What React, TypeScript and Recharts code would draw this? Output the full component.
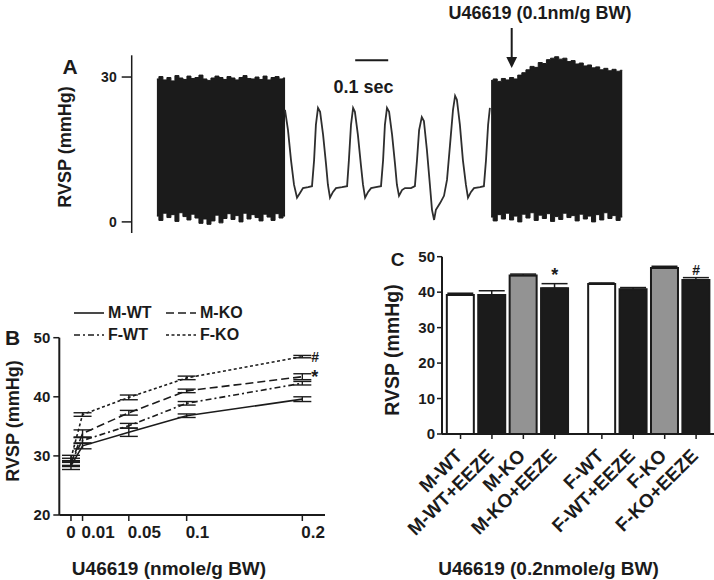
import React from 'react';
import {
  ComposedChart, LineChart, BarChart, Line, Area, Bar, Cell, XAxis, YAxis,
  ErrorBar, ReferenceLine, ReferenceDot, Legend,
} from 'recharts';

const FONT = '"Liberation Sans", Arial, Helvetica, sans-serif';
const INK = '#1b1b1b';

// ---------- panel A: RVSP recording (time in ms) ----------
const baselineStart = 84;
const baselineStep = 13.35;
const baselineTop = [29.6, 30.1, 29.4, 29.9, 29.2, 30.3, 29.8, 29.5, 30.2, 29.7, 29.9, 30.4, 29.6, 29.3, 29.8, 30.2, 29.9,
  29.5, 30.1, 29.8, 29.4, 29.9, 30.3, 29.7, 29.6, 30.0, 29.5, 30.2, 29.4, 29.9, 30.1, 29.6, 29.8];
const baselineBottom = [1.2, 0.3, 1.8, 0.9, 1.5, 0.1, 1.9, 1.1, 0.4, 1.6, 0.8, -0.3, 0.6, -0.5, 0.2, 1.4, -0.2,
  0.7, 1.7, 0.5, 1.3, 0.0, 1.8, 0.6, 1.5, 0.9, 0.2, 1.6, 1.0, 0.3, 1.7, 0.8, 1.2];

const u466Start = 1198;
const u466Step = 13.66;
const u466Top = [29.3, 29.6, 29.1, 29.7, 29.4, 29.9, 29.6, 30.4, 30.9, 31.5, 32.2, 32.0, 33.0, 32.8, 33.6, 33.9, 34.2,
  33.7, 33.9, 33.2, 33.4, 32.7, 32.9, 32.3, 32.5, 31.9, 32.1, 31.5, 31.8, 31.3, 31.6, 31.2, 31.4];
const u466Bottom = [1.0, 0.2, 1.5, 0.6, 1.8, 0.4, 1.2, 0.0, 1.6, 0.8, 1.9, 0.3, 1.4, 0.7, 1.7, 0.1, 1.1,
  0.5, 1.8, 0.9, 1.3, 0.2, 1.6, 0.6, 1.2, 0.0, 1.5, 0.4, 1.9, 0.7, 1.3, 0.3, 1.0];

const beatTime = [511, 521, 531, 541, 551, 561, 571, 588, 601, 608, 614, 621, 628, 638, 648, 654, 661, 671, 681, 701,
  718, 724, 731, 738, 744, 754, 764, 771, 778, 788, 798, 814, 831, 838, 844, 851, 858, 868, 878, 884, 891, 901, 911,
  931, 944, 951, 958, 967, 974, 984, 994, 1001, 1008, 1014, 1028, 1041, 1051, 1061, 1071, 1078, 1084, 1094, 1104,
  1114, 1121, 1131, 1141, 1161, 1174, 1181, 1188, 1194];
const beatPressure = [23.2, 19.0, 12.8, 7.7, 5.0, 6.0, 7.0, 7.2, 7.4, 12.8, 20.1, 23.6, 22.8, 18.0, 11.8, 7.7, 5.0,
  6.2, 7.0, 7.2, 7.4, 12.8, 20.1, 23.6, 22.8, 18.0, 11.8, 7.7, 5.0, 6.2, 7.0, 7.2, 7.4, 12.8, 20.1, 23.6, 22.8, 18.0,
  11.8, 7.7, 5.4, 6.6, 7.0, 7.0, 7.4, 12.8, 19.0, 21.7, 20.9, 14.9, 7.7, 2.5, 0.4, 2.5, 3.9, 5.4, 8.7, 15.9, 23.2,
  26.1, 25.3, 20.1, 12.8, 7.7, 5.0, 6.2, 7.0, 7.2, 7.4, 12.8, 20.1, 23.6];

const scaleBar = [745, 855]; // 0.1 sec

// ---------- panel B: dose response ----------
const doses = [0, 0.01, 0.05, 0.1, 0.2];
const mWT = [28.3, 31.7, 34.0, 36.8, 39.6];
const mWTErr = [0.6, 0.5, 0.7, 0.3, 0.4];
const mKO = [28.7, 33.8, 37.3, 41.0, 43.4];
const mKOErr = [0.5, 0.6, 0.4, 0.3, 0.5];
const fWT = [29.0, 32.6, 35.1, 38.9, 42.3];
const fWTErr = [0.6, 0.5, 0.4, 0.3, 0.3];
const fKO = [29.6, 37.0, 39.9, 43.2, 46.8];
const fKOErr = [0.5, 0.3, 0.4, 0.3, 0.2];

const rowsB = doses.map((dose, i) => ({
  dose,
  mWT: mWT[i], mWTErr: mWTErr[i],
  mKO: mKO[i], mKOErr: mKOErr[i],
  fWT: fWT[i], fWTErr: fWTErr[i],
  fKO: fKO[i], fKOErr: fKOErr[i],
}));

const seriesB = [
  { key: 'mWT', name: 'M-WT', dash: undefined },
  { key: 'mKO', name: 'M-KO', dash: '8 4' },
  { key: 'fWT', name: 'F-WT', dash: '6 3 2 3' },
  { key: 'fKO', name: 'F-KO', dash: '3 2.5' },
];

// ---------- panel C: 0.2 nmole/g BW ----------
const groups = ['M-WT', 'M-WT+EEZE', 'M-KO', 'M-KO+EEZE', 'F-WT', 'F-WT+EEZE', 'F-KO', 'F-KO+EEZE'];
const slots = [1, 2, 3, 4, 5.5, 6.5, 7.5, 8.5];
const rvsp = [39.2, 39.2, 44.7, 41.1, 42.3, 40.8, 46.8, 43.4];
const sem = [0.5, 1.2, 0.4, 1.3, 0.3, 0.5, 0.5, 0.7];
const marks = ['', '', '', '*', '', '', '', '#'];
const barFills = ['#ffffff', INK, '#939393', INK, '#ffffff', INK, '#939393', INK];

const rowsC = groups.map((group, i) => ({ group, slot: slots[i], rvsp: rvsp[i], sem: [0, sem[i]] }));

const tickText = (size: number) => ({ fill: INK, fontSize: size, fontWeight: 700, fontFamily: FONT });
const axisStroke = { stroke: INK, strokeWidth: 2 };

const Caption = ({ x, y, size, vertical, children }: any) => (
  <div
    style={{
      position: 'absolute', left: x, top: y,
      transform: `translate(-50%, -50%)${vertical ? ' rotate(-90deg)' : ''}`,
      fontSize: size, fontWeight: 700, lineHeight: 1, whiteSpace: 'nowrap', color: INK, fontFamily: FONT,
    }}
  >
    {children}
  </div>
);

const DoseTick = (props: any) => {
  const { x, y, payload } = props;
  const v = payload.value;
  return (
    <text x={v === 0 ? x : x - 1} y={y} dy={15} textAnchor={v === 0 ? 'middle' : 'start'} style={tickText(17)}>
      {String(v)}
    </text>
  );
};

const GroupTick = (props: any) => {
  const { x, y, payload } = props;
  const label = groups[slots.indexOf(payload.value)];
  const px = x + 3;
  const py = y + 16;
  return (
    <text x={px} y={py} textAnchor="end" transform={`rotate(-45, ${px}, ${py})`} style={tickText(19)}>
      {label}
    </text>
  );
};

const LegendB = () => (
  <div style={{ display: 'grid', gridTemplateColumns: '92px 92px', fontFamily: FONT, fontWeight: 700, fontSize: 16, color: INK }}>
    {seriesB.map((s) => (
      <div key={s.key} style={{ display: 'flex', alignItems: 'center', height: 22 }}>
        <svg width={30} height={4} style={{ marginRight: 4 }}>
          <line x1={0} y1={2} x2={30} y2={2} stroke={INK} strokeWidth={1.6} strokeDasharray={s.dash} />
        </svg>
        <span>{s.name}</span>
      </div>
    ))}
  </div>
);

const PanelA = () => {
  const baseline = baselineTop.map((hi, i) => ({ t: baselineStart + i * baselineStep, range: [baselineBottom[i], hi] }));
  const u466 = u466Top.map((hi, i) => ({ t: u466Start + i * u466Step, range: [u466Bottom[i], hi] }));
  const beats = beatTime.map((t, i) => ({ t, p: beatPressure[i] }));
  return (
    <ComposedChart width={714} height={240} margin={{ top: 55.3, right: 72.3, bottom: 7, left: 71.7 }}>
      <XAxis type="number" dataKey="t" domain={[0, 1700]} hide />
      <YAxis
        type="number" domain={[-2.3, 34.5]} ticks={[0, 30]} width={60} interval={0}
        axisLine={{ stroke: INK, strokeWidth: 1.5 }} tickLine={{ stroke: INK, strokeWidth: 1.5 }}
        tickSize={10} tickMargin={5} tick={tickText(14)}
      />
      <Area data={baseline} dataKey="range" type="step" stroke={INK} strokeWidth={1} fill={INK} fillOpacity={1}
        dot={false} activeDot={false} isAnimationActive={false} />
      <Area data={u466} dataKey="range" type="step" stroke={INK} strokeWidth={1} fill={INK} fillOpacity={1}
        dot={false} activeDot={false} isAnimationActive={false} />
      <Line data={beats} dataKey="p" type="linear" stroke="#2e2e2e" strokeWidth={1.8} dot={false} activeDot={false}
        isAnimationActive={false} />
      <ReferenceLine segment={[{ x: scaleBar[0], y: 33.5 }, { x: scaleBar[1], y: 33.5 }]} stroke={INK} strokeWidth={2} />
    </ComposedChart>
  );
};

const PanelB = () => (
  <LineChart width={360} height={280} data={rowsB} margin={{ top: 37.7, right: 35, bottom: 35, left: 19.3 }}>
    <XAxis
      type="number" dataKey="dose" domain={[-0.0101, 0.2196]} ticks={doses} interval={0} height={30}
      axisLine={axisStroke} tickLine={{ stroke: INK, strokeWidth: 1.5 }} tickSize={6} tickMargin={2}
      tick={<DoseTick />}
    />
    <YAxis
      type="number" domain={[20, 50]} ticks={[20, 30, 40, 50]} interval={0} width={40}
      axisLine={axisStroke} tickLine={{ stroke: INK, strokeWidth: 1.5 }} tickSize={6} tickMargin={3}
      tick={tickText(15)}
    />
    {seriesB.map((s) => (
      <Line key={s.key} dataKey={s.key} name={s.name} type="linear" stroke={INK} strokeWidth={1.6}
        strokeDasharray={s.dash} dot={false} activeDot={false} isAnimationActive={false}>
        <ErrorBar dataKey={`${s.key}Err`} width={9} stroke={INK} strokeWidth={1.4} direction="y" />
      </Line>
    ))}
    <ReferenceDot x={0.2} y={fKO[4]} r={0} fill="none" stroke="none"
      label={{ value: '#', position: 'right', offset: 9, fill: INK, fontSize: 14, fontWeight: 700, fontFamily: FONT }} />
    <ReferenceDot x={0.2} y={mKO[4]} r={0} fill="none" stroke="none"
      label={{ value: '*', position: 'right', offset: 9, fill: INK, fontSize: 18, fontWeight: 700, fontFamily: FONT }} />
    <Legend layout="horizontal" verticalAlign="middle" align="center" content={<LegendB />}
      wrapperStyle={{ top: 2, left: 74, width: 190 }} />
  </LineChart>
);

const PanelC = () => (
  <BarChart width={354} height={340} data={rowsC} margin={{ top: 16.7, right: 0, bottom: 26, left: 22 }}>
    <XAxis
      type="number" dataKey="slot" domain={[0.41, 9.07]} ticks={slots} interval={0} height={120}
      axisLine={axisStroke} tickLine={{ stroke: INK, strokeWidth: 1.5 }} tickSize={5} tickMargin={2}
      tick={<GroupTick />}
    />
    <YAxis
      type="number" domain={[0, 50]} ticks={[0, 10, 20, 30, 40, 50]} interval={0} width={60}
      axisLine={axisStroke} tickLine={{ stroke: INK, strokeWidth: 1.5 }} tickSize={5} tickMargin={2}
      tick={tickText(15)}
    />
    <Bar dataKey="rvsp" barSize={27} stroke={INK} strokeWidth={2} isAnimationActive={false}>
      {rowsC.map((r, i) => (
        <Cell key={r.group} fill={barFills[i]} />
      ))}
      <ErrorBar dataKey="sem" width={13} stroke={INK} strokeWidth={1.5} direction="y" />
    </Bar>
    {marks.map((m, i) =>
      m ? (
        <ReferenceDot key={groups[i]} x={slots[i]} y={rvsp[i] + sem[i]} r={0} fill="none" stroke="none"
          label={{ value: m, position: 'top', offset: 3, fill: INK, fontSize: m === '*' ? 18 : 14, fontWeight: 700, fontFamily: FONT }} />
      ) : null,
    )}
  </BarChart>
);

export default function App() {
  return (
    <div style={{ position: 'absolute', left: 0, top: 0, width: 714, height: 580, background: '#fff', overflow: 'hidden', fontFamily: FONT }}>
      <div style={{ position: 'absolute', left: 0, top: 0 }}>
        <PanelA />
      </div>
      <div style={{ position: 'absolute', left: 0, top: 300 }}>
        <PanelB />
      </div>
      <div style={{ position: 'absolute', left: 360, top: 240 }}>
        <PanelC />
      </div>

      <Caption x={70} y={66} size={21}>A</Caption>
      <Caption x={65} y={147} size={18} vertical>RVSP (mmHg)</Caption>
      <Caption x={363.5} y={86.7} size={18}>0.1 sec</Caption>
      <Caption x={540} y={13} size={18}>U46619 (0.1nm/g BW)</Caption>
      <svg width={714} height={80} style={{ position: 'absolute', left: 0, top: 0, pointerEvents: 'none' }}>
        <line x1={511.7} y1={28} x2={511.7} y2={59} stroke={INK} strokeWidth={2} />
        <polygon points="506.3,57 517.1,57 511.7,68" fill={INK} />
      </svg>

      <Caption x={12.5} y={336.5} size={21}>B</Caption>
      <Caption x={13} y={421} size={18} vertical>RVSP (mmHg)</Caption>
      <Caption x={169} y={568} size={19}>U46619 (nmole/g BW)</Caption>

      <Caption x={397.5} y={258.5} size={19}>C</Caption>
      <Caption x={393} y={350} size={19.5} vertical>RVSP (mmHg)</Caption>
      <Caption x={548.5} y={568} size={19}>U46619 (0.2nmole/g BW)</Caption>
    </div>
  );
}
